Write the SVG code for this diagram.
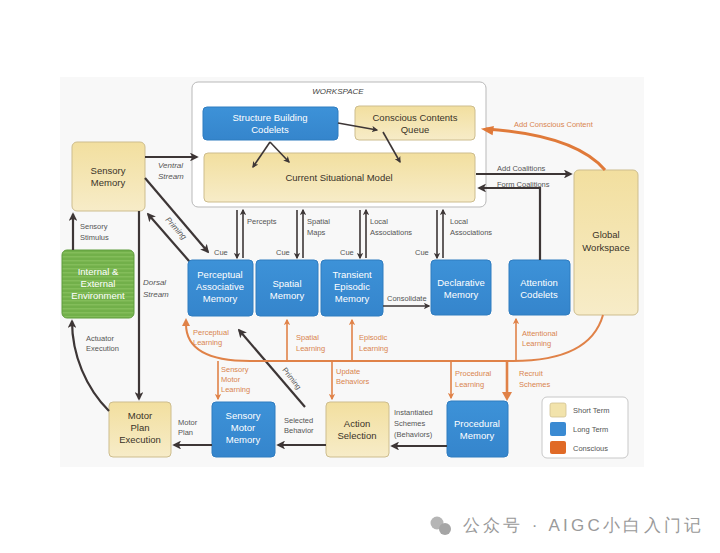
<svg xmlns="http://www.w3.org/2000/svg" width="720" height="553" viewBox="0 0 720 553">
<style>
text{font-family:"Liberation Sans","DejaVu Sans",sans-serif}
.nt{font-size:9.5px;text-anchor:middle;fill:#3a3328}
.nw{font-size:9.5px;text-anchor:middle;fill:#ffffff}
.lb{font-size:7.5px;fill:#555}
.it{font-size:8px;fill:#555;font-style:italic}
.ol{font-size:7.5px;fill:#d9854f}
.tan{fill:url(#gTan);stroke:#cdbd8e;stroke-width:1}
.blue{fill:url(#gBlue);stroke:#2f7cc0;stroke-width:1}
.dk{stroke:#3d3636;stroke-width:2.2;fill:none;marker-end:url(#mD)}
.dks{stroke:#3d3636;stroke-width:1.6;fill:none;marker-end:url(#mD)}
.or{stroke:#e08248;stroke-width:2;fill:none}
.ora{stroke:#e08248;stroke-width:1.6;fill:none;marker-end:url(#mO)}
</style>
<defs>
<linearGradient id="gTan" x1="0" y1="0" x2="0" y2="1"><stop offset="0" stop-color="#f2df9f"/><stop offset="1" stop-color="#f7ecc8"/></linearGradient>
<linearGradient id="gBlue" x1="0" y1="0" x2="0" y2="1"><stop offset="0" stop-color="#3d92d8"/><stop offset="1" stop-color="#3585cc"/></linearGradient>
<pattern id="pGreen" width="6" height="4" patternUnits="userSpaceOnUse"><rect width="6" height="4" fill="#72b04a"/><rect width="6" height="1.5" fill="#83bd5a"/></pattern>
<marker id="mD" viewBox="0 0 10 10" refX="8" refY="5" markerWidth="4" markerHeight="4" orient="auto-start-reverse"><path d="M0,0 L10,5 L0,10 L2.5,5 Z" fill="#3d3636"/></marker>
<marker id="mO" viewBox="0 0 10 10" refX="8" refY="5" markerWidth="4" markerHeight="4" orient="auto-start-reverse"><path d="M0,0 L10,5 L0,10 L2.5,5 Z" fill="#e08248"/></marker>
</defs>
<rect width="720" height="553" fill="#ffffff"/>
<rect x="60" y="77" width="584" height="390" fill="#f8f8f8"/>

<g id="workspace">
<rect x="192" y="82" width="294" height="125" rx="6" fill="#ffffff" stroke="#b9b9b9" stroke-width="1"/>
<text x="338" y="94" font-size="8px" font-style="italic" text-anchor="middle" fill="#444">WORKSPACE</text>
</g>
<g id="structure-building-codelets">
<rect class="blue" x="203" y="107" width="135" height="33" rx="4"/>
<text class="nw" x="270" y="121">Structure Building</text>
<text class="nw" x="270" y="133">Codelets</text>
</g>
<g id="conscious-contents-queue">
<rect class="tan" x="355" y="106" width="120" height="34" rx="4"/>
<text class="nt" x="415" y="121">Conscious Contents</text>
<text class="nt" x="415" y="133">Queue</text>
</g>
<g id="current-situational-model">
<rect class="tan" x="204" y="153" width="271" height="49" rx="4"/>
<text class="nt" x="339" y="181">Current Situational Model</text>
</g>
<g id="sensory-memory">
<rect class="tan" x="72" y="142" width="73" height="69" rx="5"/>
<text class="nt" x="108" y="174">Sensory</text>
<text class="nt" x="108" y="186">Memory</text>
</g>
<g id="environment">
<rect x="62" y="250" width="72" height="68" rx="5" fill="url(#pGreen)" stroke="#5f9c3c"/>
<text class="nw" x="98" y="275">Internal &amp;</text>
<text class="nw" x="98" y="287">External</text>
<text class="nw" x="98" y="299">Environment</text>
</g>
<g id="global-workspace">
<rect class="tan" x="574" y="170" width="64" height="145" rx="5"/>
<text class="nt" x="606" y="238">Global</text>
<text class="nt" x="606" y="251">Workspace</text>
</g>
<g id="perceptual-associative-memory">
<rect class="blue" x="188" y="260" width="65" height="56" rx="4"/>
<text class="nw" x="220" y="278">Perceptual</text>
<text class="nw" x="220" y="290">Associative</text>
<text class="nw" x="220" y="302">Memory</text>
</g>
<g id="spatial-memory">
<rect class="blue" x="256" y="260" width="62" height="56" rx="4"/>
<text class="nw" x="287" y="287">Spatial</text>
<text class="nw" x="287" y="299">Memory</text>
</g>
<g id="transient-episodic-memory">
<rect class="blue" x="321" y="260" width="62" height="56" rx="4"/>
<text class="nw" x="352" y="278">Transient</text>
<text class="nw" x="352" y="290">Episodic</text>
<text class="nw" x="352" y="302">Memory</text>
</g>
<g id="declarative-memory">
<rect class="blue" x="431" y="260" width="60" height="55" rx="4"/>
<text class="nw" x="461" y="286">Declarative</text>
<text class="nw" x="461" y="298">Memory</text>
</g>
<g id="attention-codelets">
<rect class="blue" x="509" y="260" width="61" height="55" rx="4"/>
<text class="nw" x="539" y="286">Attention</text>
<text class="nw" x="539" y="298">Codelets</text>
</g>
<g id="motor-plan-execution">
<rect class="tan" x="109" y="402" width="62" height="55" rx="4"/>
<text class="nt" x="140" y="419">Motor</text>
<text class="nt" x="140" y="431">Plan</text>
<text class="nt" x="140" y="443">Execution</text>
</g>
<g id="sensory-motor-memory">
<rect class="blue" x="212" y="402" width="63" height="55" rx="4"/>
<text class="nw" x="243" y="419">Sensory</text>
<text class="nw" x="243" y="431">Motor</text>
<text class="nw" x="243" y="443">Memory</text>
</g>
<g id="action-selection">
<rect class="tan" x="326" y="402" width="63" height="55" rx="4"/>
<text class="nt" x="357" y="427">Action</text>
<text class="nt" x="357" y="439">Selection</text>
</g>
<g id="procedural-memory">
<rect class="blue" x="447" y="401" width="61" height="56" rx="4"/>
<text class="nw" x="477" y="427">Procedural</text>
<text class="nw" x="477" y="439">Memory</text>
</g>
<g id="legend">
<rect x="542" y="397" width="86" height="61" rx="5" fill="#ffffff" stroke="#c8c8c8"/>
<rect x="550" y="403" width="16" height="14" rx="2" fill="#f2e3ab" stroke="#d2c293" stroke-width="0.8"/>
<rect x="550" y="422" width="16" height="14" rx="2" fill="#3a8ad2"/>
<rect x="550" y="441" width="16" height="13" rx="2" fill="#e06a26"/>
<text class="lb" x="573" y="413">Short Term</text>
<text class="lb" x="573" y="432">Long Term</text>
<text class="lb" x="573" y="451" fill="#444">Conscious</text>
</g>

<g id="connectors">
<path class="dks" d="M270,142 L253,167"/>
<path class="dks" d="M270,142 L289,162"/>
<path class="dks" d="M338,123 L377,130"/>
<path class="dks" d="M383,132 L400,162"/>
<path class="dk" d="M145,157 L197,157"/>
<path class="dk" d="M145,178 L208,252"/>
<path class="dk" d="M189,261 L148,214"/>
<path class="dk" d="M73,250 L73,214"/>
<path class="dk" d="M139,211 L139,399"/>
<path class="dk" d="M109,411 C86,388 72,355 72,321"/>
<path class="dk" d="M212,445 L174,445"/>
<path class="dk" d="M326,445 L278,445"/>
<path class="dk" d="M447,446 L392,446"/>
<path class="dk" d="M305,407 L239,330"/>
<path class="dks" d="M237,210 L237,258"/>
<path class="dks" d="M243,258 L243,210"/>
<path class="dks" d="M297,210 L297,258"/>
<path class="dks" d="M303,258 L303,210"/>
<path class="dks" d="M360,210 L360,258"/>
<path class="dks" d="M366,258 L366,210"/>
<path class="dks" d="M437,210 L437,258"/>
<path class="dks" d="M443,258 L443,210"/>
<path class="dks" d="M383,306 L429,306"/>
<path class="dk" d="M476,174 L571,174"/>
<path class="dk" d="M540,260 L540,188 L479,188"/>
<path d="M605,170 Q575,135 486,129" stroke="#e07a3a" stroke-width="3" fill="none"/>
<path d="M493,127 L483,129 L492,134 Z" fill="#e07a3a" stroke="#e07a3a" stroke-width="1.5"/>
<path class="or" d="M603,315 Q590,361 513,361 L250,361 Q186,361 186,324"/>
<path d="M182,326 L186,318 L190,326 Z" fill="#e08248"/>
<path class="ora" d="M287,361 L287,320"/>
<path class="ora" d="M352,361 L352,320"/>
<path class="ora" d="M516,361 L516,319"/>
<path class="ora" d="M218,361 L218,399"/>
<path class="ora" d="M332,361 L332,399"/>
<path class="ora" d="M451,361 L451,398"/>
<path d="M507,361 L507,394" stroke="#e08248" stroke-width="2.6" fill="none"/>
<path d="M502,392 L507,401 L512,392 Z" fill="#e08248"/>
</g>

<g id="labels">
<text class="it" x="158" y="168">Ventral</text>
<text class="it" x="158" y="179">Stream</text>
<text class="lb" x="214" y="255">Cue</text>
<text class="it" x="0" y="0" transform="translate(165,220) rotate(48)">Priming</text>
<text class="lb" x="80" y="229">Sensory</text>
<text class="lb" x="80" y="240">Stimulus</text>
<text class="it" x="143" y="285">Dorsal</text>
<text class="it" x="143" y="297">Stream</text>
<text class="lb" x="86" y="341">Actuator</text>
<text class="lb" x="86" y="351">Execution</text>
<text class="lb" x="178" y="425">Motor</text>
<text class="lb" x="178" y="435">Plan</text>
<text class="lb" x="284" y="423">Selected</text>
<text class="lb" x="284" y="433">Behavior</text>
<text class="lb" x="394" y="415">Instantiated</text>
<text class="lb" x="394" y="426">Schemes</text>
<text class="lb" x="394" y="437">(Behaviors)</text>
<text class="lb" x="0" y="0" transform="translate(282,370) rotate(52)">Priming</text>
<text class="lb" x="247" y="224">Percepts</text>
<text class="lb" x="276" y="255">Cue</text>
<text class="lb" x="307" y="224">Spatial</text>
<text class="lb" x="307" y="235">Maps</text>
<text class="lb" x="340" y="255">Cue</text>
<text class="lb" x="370" y="224">Local</text>
<text class="lb" x="370" y="235">Associations</text>
<text class="lb" x="415" y="255">Cue</text>
<text class="lb" x="450" y="224">Local</text>
<text class="lb" x="450" y="235">Associations</text>
<text class="lb" x="387" y="301">Consolidate</text>
<text class="lb" x="497" y="171">Add Coalitions</text>
<text class="lb" x="497" y="187">Form Coalitions</text>
<text class="ol" x="514" y="127">Add Conscious Content</text>
<text class="ol" x="193" y="335">Perceptual</text>
<text class="ol" x="193" y="345">Learning</text>
<text class="ol" x="296" y="340">Spatial</text>
<text class="ol" x="296" y="351">Learning</text>
<text class="ol" x="359" y="340">Episodic</text>
<text class="ol" x="359" y="351">Learning</text>
<text class="ol" x="522" y="336">Attentional</text>
<text class="ol" x="522" y="346">Learning</text>
<text class="ol" x="221" y="372">Sensory</text>
<text class="ol" x="221" y="382">Motor</text>
<text class="ol" x="221" y="392">Learning</text>
<text class="ol" x="336" y="374">Update</text>
<text class="ol" x="336" y="384">Behaviors</text>
<text class="ol" x="455" y="376">Procedural</text>
<text class="ol" x="455" y="387">Learning</text>
<text class="ol" x="519" y="376">Recruit</text>
<text class="ol" x="519" y="387">Schemes</text>
</g>

<g id="watermark">
<circle cx="437" cy="523" r="6.5" fill="#b5b5b5"/>
<circle cx="445" cy="529" r="6" fill="#a5a5a5"/>
<text x="463" y="531" font-size="17px" fill="#9a9a9a" textLength="238" lengthAdjust="spacing" font-family="'Liberation Sans','Noto Sans CJK SC',sans-serif">公众号 · AIGC小白入门记</text>
</g>
</svg>
